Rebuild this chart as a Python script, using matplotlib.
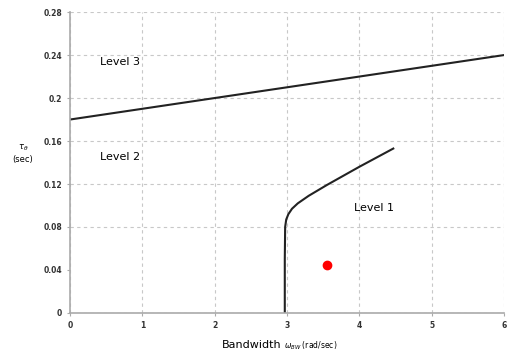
import matplotlib
matplotlib.use("Agg")
import matplotlib.pyplot as plt

# boundary between level 2 and level 3
l3_x = [0, 6]
l3_y = [0.18, 0.24]

# boundary between level 1 and level 2
l1_x = [2.97, 2.97, 2.975, 2.99, 3.02, 3.07, 3.15, 3.3, 3.55, 4.0, 4.47]
l1_y = [0.0, 0.05, 0.08, 0.087, 0.092, 0.097, 0.102, 0.109, 0.119, 0.136, 0.153]

# design point
pt_x = [3.55]
pt_y = [0.045]

xticks = [0, 1, 2, 3, 4, 5, 6]
yticks = [0, 0.04, 0.08, 0.12, 0.16, 0.2, 0.24, 0.28]
ytick_labels = ["0", "0.04", "0.08", "0.12", "0.16", "0.2", "0.24", "0.28"]

fig = plt.figure(figsize=(5.07, 3.56), dpi=100)
ax = fig.add_axes([0.138, 0.121, 0.856, 0.845])

ax.plot(l3_x, l3_y, color="#222222", lw=1.5)
ax.plot(l1_x, l1_y, color="#222222", lw=1.5)
ax.plot(pt_x, pt_y, "o", color="red", ms=6)

ax.set_xlim(0, 6)
ax.set_ylim(0, 0.28)
ax.set_xticks(xticks)
ax.set_yticks(yticks)
ax.set_yticklabels(ytick_labels)
ax.tick_params(labelsize=5.5, length=2, color="#aaaaaa", colors="#333333")
for lab in ax.get_xticklabels() + ax.get_yticklabels():
    lab.set_fontweight("bold")
ax.grid(True, ls=(0, (3, 3)), color="#c8c8c8", lw=0.8)
# no horizontal grid line at 0.04 in the original
ax.yaxis.get_gridlines()[1].set_visible(False)
for s in ["top", "right"]:
    ax.spines[s].set_visible(False)
for s in ["left", "bottom"]:
    ax.spines[s].set_color("#aaaaaa")
    ax.spines[s].set_linewidth(1.2)

ax.text(0.69, 0.234, "Level 3", fontsize=8, ha="center", va="center")
ax.text(0.69, 0.145, "Level 2", fontsize=8, ha="center", va="center")
ax.text(4.2, 0.098, "Level 1", fontsize=8, ha="center", va="center")

fig.text(0.045, 0.57, r"$\tau_\theta$" + "\n(sec)", fontsize=6, ha="center", va="center")
fig.text(0.555, 0.03, "Bandwidth", fontsize=8, ha="right", va="center")
fig.text(0.56, 0.03, r"$\omega_{BW}$ (rad/sec)", fontsize=5.5, ha="left", va="center")

fig.savefig("out.png", dpi=100)
